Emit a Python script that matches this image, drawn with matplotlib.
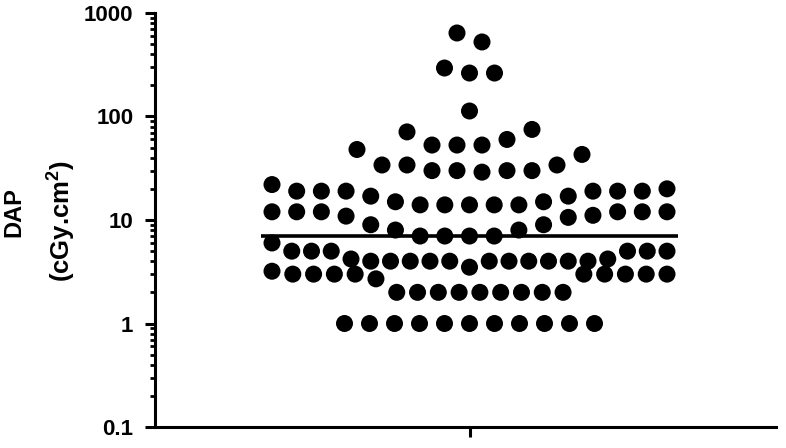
import numpy as np
import matplotlib
matplotlib.use("Agg")
import matplotlib.pyplot as plt
from matplotlib.ticker import FixedLocator, LogLocator, NullFormatter

plt.rcParams['font.family'] = ['Liberation Sans', 'DejaVu Sans']
plt.rcParams['mathtext.fontset'] = 'custom'
plt.rcParams['mathtext.rm'] = 'Liberation Sans'
plt.rcParams['mathtext.bf'] = 'Liberation Sans:bold'

# ---- data ----
category = "DAP"
dap_values = (
    [1] * 11 + [2] * 9 + [2.7] + [3] * 9 + [3.2] + [3.5] + [4] * 11 + [4.2] * 2 +
    [5] * 6 + [6] + [7] * 4 + [8] * 2 + [9] * 2 + [10.6, 10.9, 11.1] + [12] * 6 +
    [14] * 5 + [15] * 2 + [17] * 2 + [19] * 6 + [20] + [22] +
    [29] + [30] * 4 + [34] * 3 + [43] + [48] + [53] * 3 + [60] + [71] + [75] +
    [113] + [263] * 2 + [294] + [525] + [641]
)
y_ticks = [0.1, 1, 10, 100, 1000]
y_tick_labels = ["0.1", "1", "10", "100", "1000"]
y_label_1 = "DAP"
y_label_2 = r"(cGy.cm$^{\mathbf{2}}$)"

vals = np.array(dap_values, dtype=float)

W, H = 786, 448
fig = plt.figure(figsize=(W / 100, H / 100), dpi=100)
ax_left, ax_right, ax_top, ax_bot = 155, 776, 13, 427
ax = fig.add_axes([ax_left / W, 1 - ax_bot / H, (ax_right - ax_left) / W, (ax_bot - ax_top) / H])

ax.set_yscale('log')
ax.set_ylim(0.1, 1000)
center_px = 469.5
u = (ax_right - ax_left) / 2.0
ax.set_xlim(-(center_px - ax_left) / u, (ax_right - center_px) / u)

# ---- swarm layout (row-binned, computed in display space) ----
def binned_swarm(values, bin_h=25.0, max_step=25.0, max_width=395.0):
    ypx = ax.transData.transform(np.column_stack([np.zeros_like(values), values]))[:, 1]
    order = np.argsort(ypx, kind='stable')
    offs = np.zeros(len(values))
    i = 0
    b = 0
    while i < len(order):
        start = ypx[order[i]]
        j = i
        while j < len(order) and ypx[order[j]] - start < bin_h:
            j += 1
        members = order[i:j]
        n = len(members)
        first = -1 if b % 2 == 1 else 1
        slots = []
        for k in range(n):
            m = (k + 1) // 2
            slots.append(0 if k == 0 else (first * m if k % 2 == 1 else -first * m))
        slots = np.array(slots, dtype=float)
        slots -= (slots.min() + slots.max()) / 2.0
        step = max_step if n < 2 else min(max_step, max_width / (n - 1))
        offs[members] = slots * step
        i = j
        b += 1
    p0 = ax.transData.transform([[0, 1]])[0, 0]
    p1 = ax.transData.transform([[1, 1]])[0, 0]
    return offs / (p1 - p0)

xs = binned_swarm(vals)
ax.scatter(xs, vals, s=150, color='black', edgecolors='none', zorder=3)

med = np.median(vals)
ax.plot([-0.67, 0.67], [med, med], color='black', lw=2.6, solid_capstyle='butt', zorder=4)

# ---- axes styling ----
for side in ['top', 'right']:
    ax.spines[side].set_visible(False)
for side in ['left', 'bottom']:
    ax.spines[side].set_linewidth(2.2)
    ax.spines[side].set_color('black')

ax.yaxis.set_major_locator(FixedLocator(y_ticks))
ax.set_yticklabels(y_tick_labels, fontsize=16, fontweight='bold')
ax.yaxis.set_minor_locator(LogLocator(base=10, subs=np.arange(2, 10)))
ax.yaxis.set_minor_formatter(NullFormatter())
ax.tick_params(axis='y', which='major', length=7.5, width=2.2, pad=8, direction='out')
ax.tick_params(axis='y', which='minor', length=3.8, width=2.0, direction='out')

ax.set_xticks([0])
ax.set_xticklabels([""])
ax.tick_params(axis='x', which='major', length=7.5, width=2.2, direction='out')
ax.tick_params(axis='x', which='minor', length=0)

fig.text(13.5 / W, 1 - 212.5 / H, y_label_1, rotation=90, ha='center', va='center',
         fontsize=17, fontweight='bold')
fig.text(61 / W, 1 - 221.5 / H, y_label_2, rotation=90, ha='center', va='center',
         fontsize=18.5, fontweight='bold')

fig.savefig('out.png', dpi=100)
